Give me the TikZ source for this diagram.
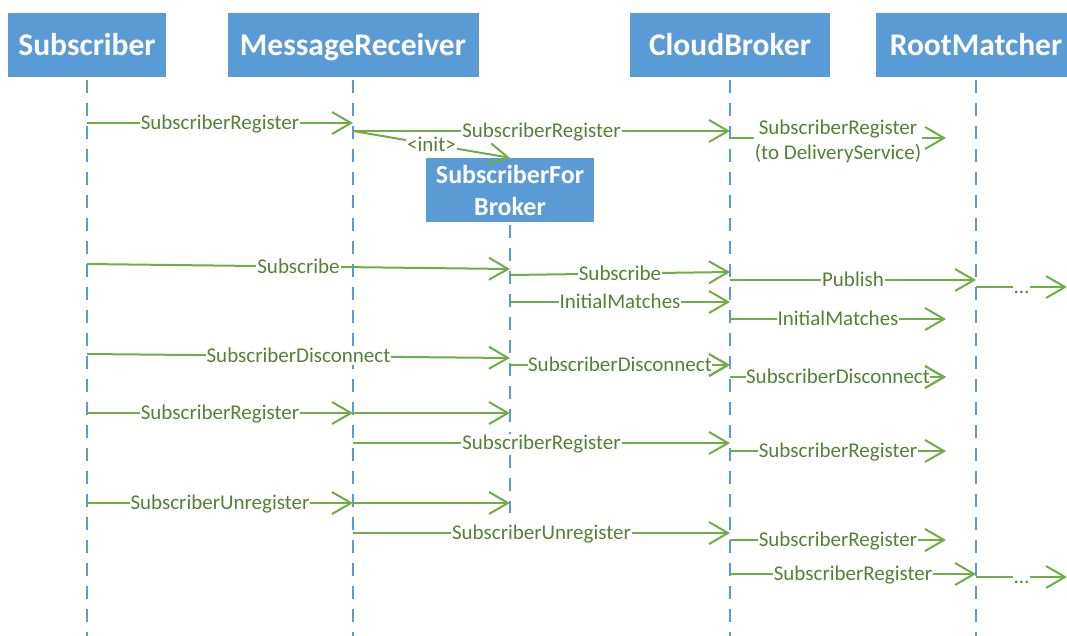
\documentclass[tikz,border=0pt]{standalone}
\usepackage{fontspec}
\setmainfont{Carlito}
\usetikzlibrary{arrows.meta}
\definecolor{boxblue}{HTML}{5B9BD5}
\definecolor{msggreen}{HTML}{70AD47}
\definecolor{msgtext}{HTML}{548235}
\begin{document}
\begin{tikzpicture}[x=1pt,y=-1pt,
  actor/.style={fill=boxblue, text=white, font=\fontsize{31.5}{36}\selectfont\bfseries,
    minimum height=64pt, inner sep=0pt, text height=20.5pt, text depth=0pt},
  lifeline/.style={draw=boxblue, line width=2pt, dash pattern=on 13pt off 10pt},
  msg/.style={draw=msggreen, line width=2pt, -{Straight Barb[length=19pt,width=22pt]}},
  lbl/.style={fill=white, text=msgtext, font=\fontsize{21}{25}\selectfont,
    inner xsep=1pt, inner ysep=2pt, text height=13.5pt, text depth=0pt},
]
\useasboundingbox (0,0) rectangle (1067,635);
\clip (0,0) rectangle (1067,635);

% participants
\node[actor, minimum width=158pt] (Sub) at (87,45) {Subscriber};
\node[actor, minimum width=251pt] (MR) at (353,45) {MessageReceiver};
\node[actor, minimum width=200pt] (CB) at (730,45) {CloudBroker};
\node[actor, minimum width=200pt] (RM) at (976,45) {RootMatcher};
\node[actor, minimum width=168pt, align=center, text height=, text depth=,
  font=\fontsize{26}{32}\selectfont\bfseries] (SFB) at (510,190) {SubscriberFor\\Broker};

% lifelines
\coordinate (bot) at (0,640);
\coordinate (sfbEnd) at (0,513);
\draw[lifeline] ([yshift=-3pt]Sub.south) -- (Sub |- bot);
\draw[lifeline] ([yshift=-3pt]MR.south) -- (MR |- bot);
\draw[lifeline] ([yshift=-3pt]CB.south) -- (CB |- bot);
\draw[lifeline] ([yshift=-3pt]RM.south) -- (RM |- bot);
\draw[lifeline] ([yshift=-3pt]SFB.south) -- (SFB |- sfbEnd);

% message rows
\coordinate (y1) at (0,123);
\coordinate (y2) at (0,131);
\coordinate (y3) at (0,138);
\coordinate (y4a) at (0,264);
\coordinate (y4b) at (0,269);
\coordinate (y5a) at (0,275);
\coordinate (y5b) at (0,272);
\coordinate (y6) at (0,280);
\coordinate (y7) at (0,287);
\coordinate (y8) at (0,302);
\coordinate (y9) at (0,319);
\coordinate (y10a) at (0,354);
\coordinate (y10b) at (0,358);
\coordinate (y11) at (0,365);
\coordinate (y12) at (0,377);
\coordinate (y13) at (0,413);
\coordinate (y14) at (0,443);
\coordinate (y15) at (0,451);
\coordinate (y16) at (0,503);
\coordinate (y17) at (0,533);
\coordinate (y18) at (0,540);
\coordinate (y19) at (0,574);
\coordinate (y20) at (0,577);
% free ends of outgoing messages
\coordinate (xMid) at (946,0);
\coordinate (xOut) at (1067,0);

% registration
\draw[msg] (Sub |- y1) -- node[lbl] {SubscriberRegister} (MR |- y1);
\draw[msg] (MR |- y2) -- node[lbl] {SubscriberRegister} (CB |- y2);
\draw[msg] (MR |- y2) -- node[lbl] {<init>} (SFB.north);
\draw[msg] (CB |- y3) -- node[fill=white, text=msgtext, font=\fontsize{21}{25}\selectfont,
  align=center, inner sep=1pt, yshift=-3pt] {SubscriberRegister\\(to DeliveryService)} (xMid |- y3);

% subscribe
\draw[msg] (Sub |- y4a) -- node[lbl] {Subscribe} (SFB |- y4b);
\draw[msg] (SFB |- y5a) -- node[lbl] {Subscribe} (CB |- y5b);
\draw[msg] (CB |- y6) -- node[lbl] {Publish} (RM |- y6);
\draw[msg] (RM |- y7) -- node[lbl] {…} (xOut |- y7);
\draw[msg] (SFB |- y8) -- node[lbl] {InitialMatches} (CB |- y8);
\draw[msg] (CB |- y9) -- node[lbl] {InitialMatches} (xMid |- y9);

% disconnect (tips redrawn over the wide labels)
\draw[msg] (Sub |- y10a) -- node[lbl] {SubscriberDisconnect} (SFB |- y10b);
\draw[msg] (SFB |- y11) -- node[lbl, inner xsep=0pt] {SubscriberDisconnect} (CB |- y11);
\draw[msg] ([xshift=-2pt]CB |- y11) -- (CB |- y11);
\draw[msg] (CB |- y12) -- node[lbl, inner xsep=0pt] {SubscriberDisconnect} (xMid |- y12);
\draw[msg] ([xshift=-2pt]xMid |- y12) -- (xMid |- y12);

% re-register
\draw[msg] (Sub |- y13) -- node[lbl] {SubscriberRegister} (MR |- y13);
\draw[msg] (MR |- y13) -- (SFB |- y13);
\draw[msg] (MR |- y14) -- node[lbl] {SubscriberRegister} (CB |- y14);
\draw[msg] (CB |- y15) -- node[lbl] {SubscriberRegister} (xMid |- y15);

% unregister
\draw[msg] (Sub |- y16) -- node[lbl] {SubscriberUnregister} (MR |- y16);
\draw[msg] (MR |- y16) -- (SFB |- y16);
\draw[msg] (MR |- y17) -- node[lbl] {SubscriberUnregister} (CB |- y17);
\draw[msg] (CB |- y18) -- node[lbl] {SubscriberRegister} (xMid |- y18);
\draw[msg] (CB |- y19) -- node[lbl] {SubscriberRegister} (RM |- y19);
\draw[msg] (RM |- y20) -- node[lbl] {…} (xOut |- y20);
\end{tikzpicture}
\end{document}
